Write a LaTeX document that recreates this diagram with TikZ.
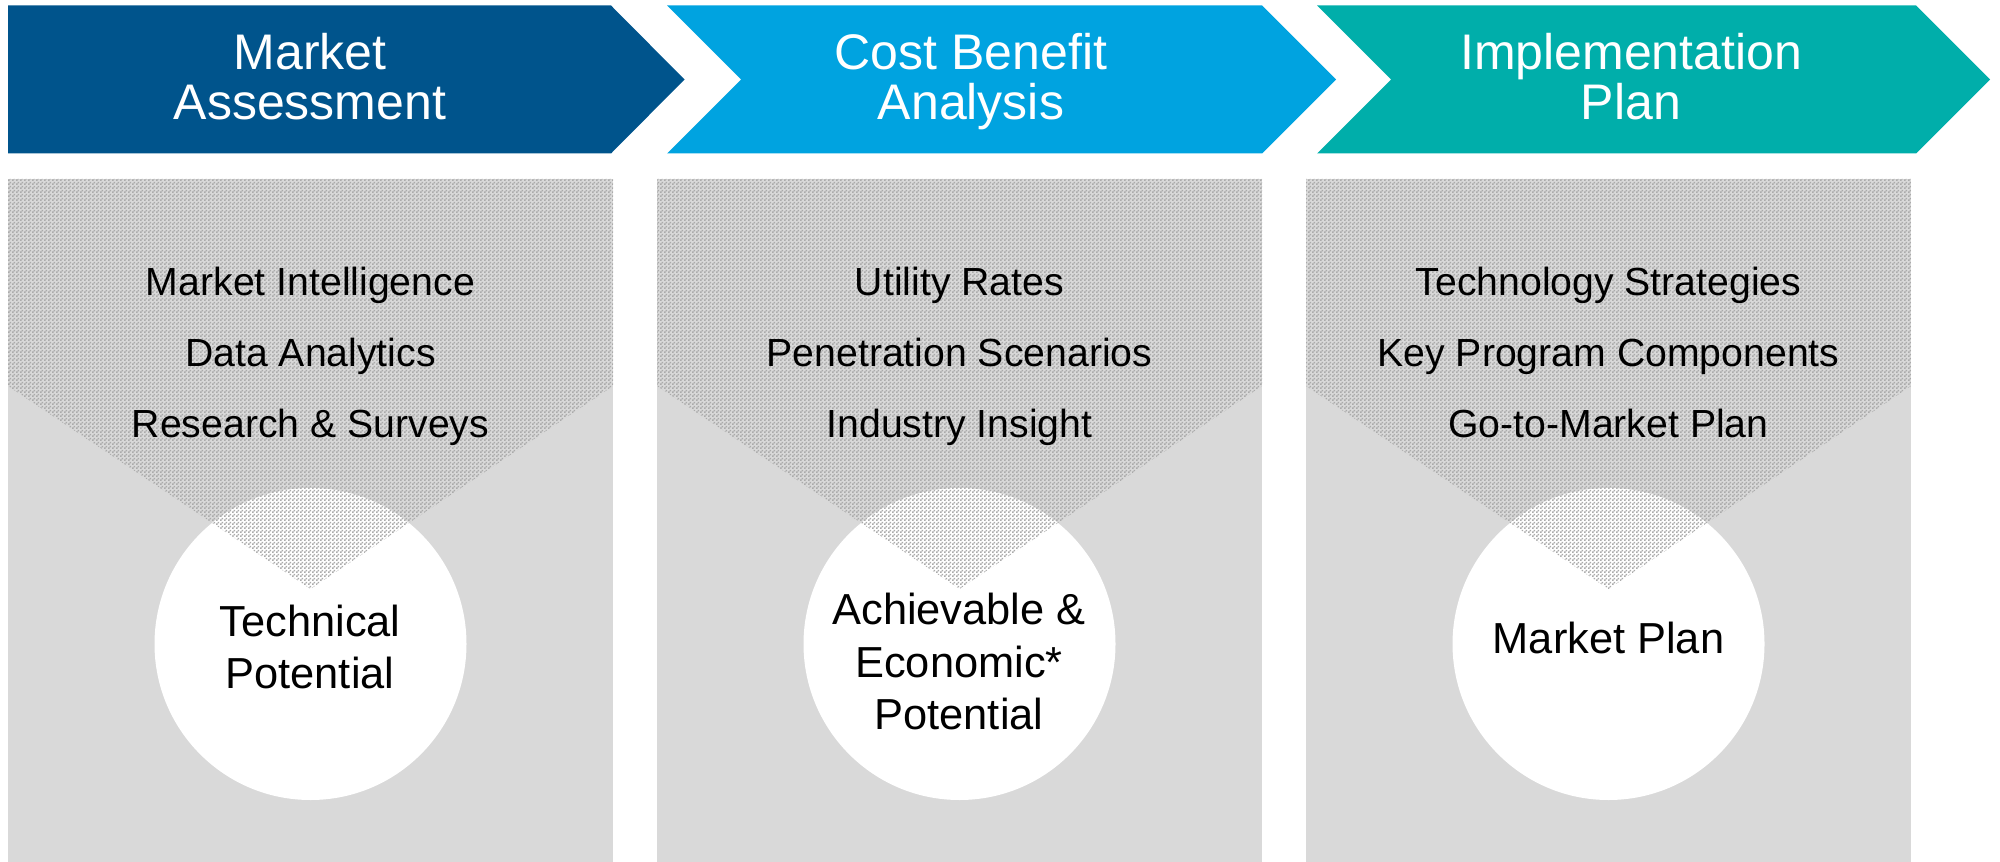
\documentclass[tikz,border=0pt]{standalone}
\usepackage{fontspec}
\setmainfont{Liberation Sans}
\usetikzlibrary{patterns.meta}

\definecolor{chevA}{RGB}{0,84,140}
\definecolor{chevB}{RGB}{0,163,224}
\definecolor{chevC}{RGB}{0,174,170}
\definecolor{panelgray}{RGB}{217,217,217}
\definecolor{dotgray}{RGB}{170,170,170}

\pgfdeclarepattern{
  name=pptdots,
  type=uncolored,
  bottom left={\pgfpoint{0pt}{0pt}},
  top right={\pgfpoint{2pt}{2pt}},
  tile size={\pgfpoint{2pt}{2pt}},
  code={
    \pgfpathrectangle{\pgfpoint{0pt}{0pt}}{\pgfpoint{1pt}{1pt}}
    \pgfpathrectangle{\pgfpoint{1pt}{1pt}}{\pgfpoint{1pt}{1pt}}
    \pgfusepath{fill}
  }
}

\tikzset{
  titletext/.style={text=white, font=\fontsize{25}{25}\selectfont, anchor=base, inner sep=0pt},
  itemtext/.style={text=black, font=\fontsize{19.6}{19.6}\selectfont, anchor=base, inner sep=0pt},
  holetext/.style={text=black, font=\fontsize{21.7}{21.7}\selectfont, anchor=base, inner sep=0pt},
  panel/.style={fill=panelgray, draw=none},
  funnel/.style={pattern=pptdots, pattern color=dotgray, draw=none},
  hole/.style={circle, fill=white, draw=none, minimum size=156pt, inner sep=0pt}
}

\begin{document}
\begin{tikzpicture}[x=0.5pt, y=-0.5pt]
\useasboundingbox (0,0) rectangle (2000,861);

% chevrons
\fill[chevA] (8,5.5) -- (611,5.5) -- (684.5,79.5) -- (611,153.5) -- (8,153.5) -- cycle;
\fill[chevB] (667,5.5) -- (1262,5.5) -- (1336,79.5) -- (1262,153.5) -- (667,153.5) -- (741,79.5) -- cycle;
\fill[chevC] (1317,5.5) -- (1916,5.5) -- (1990,79.5) -- (1916,153.5) -- (1317,153.5) -- (1391,79.5) -- cycle;

\node[titletext] (t1a) at (310,69.5) {Market};
\node[titletext] (t1b) at (310,119.5) {Assessment};
\node[titletext] (t2a) at (971,69.5) {Cost Benefit};
\node[titletext] (t2b) at (971,119.5) {Analysis};
\node[titletext] (t3a) at (1631,69.5) {Implementation};
\node[titletext] (t3b) at (1631,119.5) {Plan};

% panels
\fill[panel] (8,179) rectangle (613,862);
\fill[panel] (657,179) rectangle (1262,862);
\fill[panel] (1306,179) rectangle (1911,862);

% white circles
\node[hole] (c1) at (310.5,644) {};
\node[hole] (c2) at (959.5,644) {};
\node[hole] (c3) at (1608.5,644) {};

% dotted funnels
\fill[funnel] (8,179) -- (613,179) -- (613,386) -- (310.5,589) -- (8,386) -- cycle;
\fill[funnel] (657,179) -- (1262,179) -- (1262,386) -- (959.5,589) -- (657,386) -- cycle;
\fill[funnel] (1306,179) -- (1911,179) -- (1911,386) -- (1608.5,589) -- (1306,386) -- cycle;

% panel items
\node[itemtext] (a1) at (310.5,295.5) {Market Intelligence};
\node[itemtext] (a2) at (310.5,366.5) {Data Analytics};
\node[itemtext] (a3) at (310.5,437) {Research \& Surveys};
\node[itemtext] (b1) at (959.5,295.5) {Utility Rates};
\node[itemtext] (b2) at (959.5,366.5) {Penetration Scenarios};
\node[itemtext] (b3) at (959.5,437) {Industry Insight};
\node[itemtext] (d1) at (1608.5,295.5) {Technology Strategies};
\node[itemtext] (d2) at (1608.5,366.5) {Key Program Components};
\node[itemtext] (d3) at (1608.5,437) {Go-to-Market Plan};

% circle texts
\node[holetext] (r1a) at (310,636.7) {Technical};
\node[holetext] (r1b) at (310,688.3) {Potential};
\node[holetext] (r2a) at (959,624.3) {Achievable \&};
\node[holetext] (r2b) at (959,677.3) {Economic*};
\node[holetext] (r2c) at (959,729.3) {Potential};
\node[holetext] (r3a) at (1608.5,653.3) {Market Plan};
\end{tikzpicture}
\end{document}
